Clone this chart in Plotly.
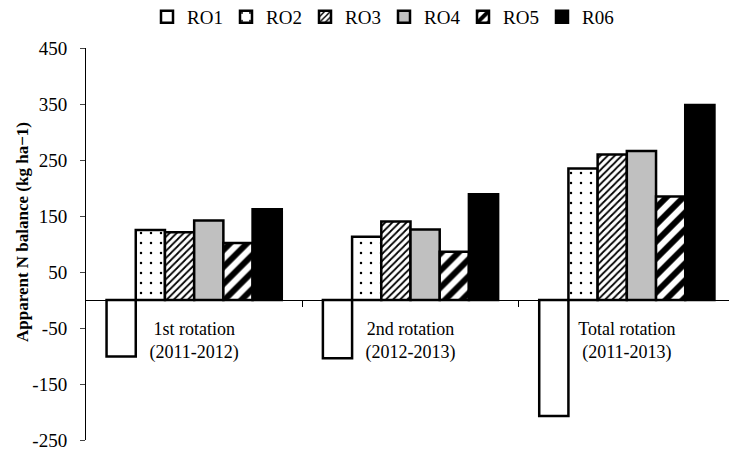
import plotly.graph_objects as go

# rotation periods (x positions 0,1,2)
periods = ["1st rotation<br>(2011-2012)", "2nd rotation<br>(2012-2013)", "Total rotation<br>(2011-2013)"]
period_pos = [0, 1, 2]

ro1 = [-101, -104, -207]
ro2 = [125, 113, 235]
ro3 = [121, 140, 260]
ro4 = [142, 126, 266]
ro5 = [102, 86, 185]
r06 = [162, 189, 348]

y_ticks = [450, 350, 250, 150, 50, -50, -150, -250]
y_labels = ["450", "350", "250", "150", "50", "-50", "-150", "-250"]

series = [
    ("RO1", ro1, dict(color="white")),
    ("RO2", ro2, dict(color="white", pattern=dict(shape=".", size=10, solidity=0.05, fgcolor="black", bgcolor="white", fgopacity=1))),
    ("RO3", ro3, dict(color="white", pattern=dict(shape="/", size=5, solidity=0.35, fgcolor="black", bgcolor="white", fgopacity=1))),
    ("RO4", ro4, dict(color="#c0c0c0")),
    ("RO5", ro5, dict(color="white", pattern=dict(shape="/", size=12, solidity=0.5, fgcolor="black", bgcolor="white", fgopacity=1))),
    ("R06", r06, dict(color="black")),
]

fig = go.Figure()
for name, vals, mk in series:
    mk["line"] = dict(color="black", width=2.5)
    fig.add_trace(go.Bar(x=period_pos, y=vals, name=name, marker=mk))

# page body adds 8px offset, so margins are shifted by that amount
L, T, PW, PH = 78, 40, 649, 392
fig.update_layout(
    width=737, height=452,
    barmode="group", bargap=0.19, bargroupgap=0,
    plot_bgcolor="white", paper_bgcolor="white",
    font=dict(family="Liberation Serif", size=18, color="black"),
    margin=dict(l=L, r=737 - L - PW, t=T, b=452 - T - PH, autoexpand=False),
    legend=dict(orientation="h", x=(139 - L) / PW, xanchor="left",
                y=1.0 + (T - 9) / PH, yanchor="middle",
                font=dict(size=19), entrywidth=34, itemwidth=30, traceorder="normal"),
    showlegend=True,
)
fig.update_yaxes(
    range=[-250, 450], tickvals=y_ticks, ticktext=y_labels, ticks="outside", ticklen=5,
    showline=True, linecolor="black", linewidth=1, showgrid=False, zeroline=False,
    automargin=False, ticklabelstandoff=9, tickfont=dict(size=19),
)
fig.add_annotation(
    text="<b>Apparent N balance (kg ha−1)</b>", textangle=-90, font=dict(size=17),
    xref="paper", yref="paper", x=(14 - L) / PW, y=(432 - 224) / PH,
    showarrow=False, xanchor="center", yanchor="middle",
)
fig.update_xaxes(
    range=[-0.5, 2.5], tickvals=period_pos, ticktext=periods, ticks="",
    anchor="free", position=250 / 700, automargin=False,
    showline=True, linecolor="black", linewidth=1, showgrid=False, zeroline=False,
    ticklabelstandoff=12, tickfont=dict(size=18),
    minor=dict(tickvals=[0.5, 1.5, 2.5], ticks="outside", ticklen=6, tickcolor="black"),
)

fig.write_html("out.html")
